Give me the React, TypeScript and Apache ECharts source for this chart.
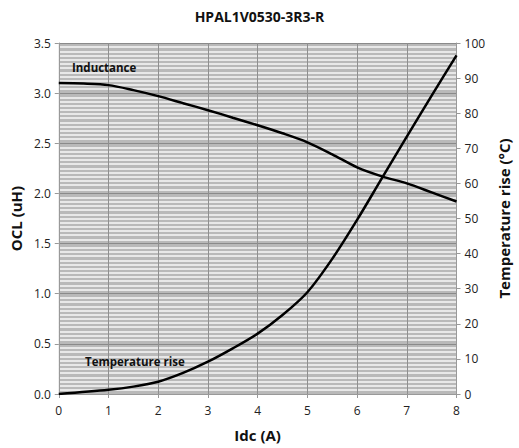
import React, { useEffect, useRef } from "react";
import * as echarts from "echarts";

const titleText = "HPAL1V0530-3R3-R";
const inductanceX = [0, 0.5, 1, 1.5, 2, 2.5, 3, 3.5, 4, 4.5, 5, 5.5, 6, 6.5, 7, 7.5, 8];
const inductanceY = [3.1, 3.095, 3.08, 3.03, 2.97, 2.9, 2.83, 2.755, 2.68, 2.6, 2.51, 2.39, 2.26, 2.17, 2.1, 2.01, 1.92];
const tempX = [0, 1, 1.5, 2, 2.5, 3, 3.5, 4, 4.5, 5, 5.5, 6, 6.5, 7, 7.5, 8];
const tempY = [0, 1.2, 2.1, 3.5, 6, 9.2, 13, 17.2, 22.5, 29, 38.5, 49.6, 61.5, 73.3, 85, 96.5];

const FONT = "'Open Sans', sans-serif";

export default function App() {
  const ref = useRef<HTMLDivElement>(null);
  useEffect(() => {
    const chart = echarts.init(ref.current!, undefined, { renderer: "svg" });
    chart.setOption({
      animation: false,
      backgroundColor: "#ffffff",
      textStyle: { fontFamily: FONT },
      title: {
        text: titleText,
        left: "center",
        top: 4,
        textStyle: { fontSize: 14, fontWeight: "bold", color: "#111", fontFamily: FONT },
      },
      grid: {
        left: 56,
        right: 59,
        top: 43,
        bottom: 54,
        show: true,
        backgroundColor: "#b9b9b9",
        borderWidth: 0,
      },
      xAxis: {
        type: "value",
        min: 0,
        max: 8,
        interval: 1,
        name: "Idc (A)",
        nameLocation: "middle",
        nameGap: 33,
        nameTextStyle: { fontSize: 15, fontWeight: "bold", color: "#111", fontFamily: FONT },
        axisLine: { show: true, lineStyle: { color: "#999" } },
        axisTick: { show: true, length: 4, lineStyle: { color: "#999" } },
        axisLabel: { fontSize: 12, color: "#222", margin: 10 },
        splitLine: { show: true, lineStyle: { color: "#8f8f8f", width: 1 } },
      },
      yAxis: [
        {
          type: "value",
          min: 0,
          max: 3.5,
          interval: 0.5,
          name: "OCL (uH)",
          nameLocation: "middle",
          nameRotate: 90,
          nameGap: 30,
          nameTextStyle: { fontSize: 15, fontWeight: "bold", color: "#111", fontFamily: FONT },
          axisLine: { show: true, lineStyle: { color: "#999" } },
          axisTick: { show: true, length: 4, lineStyle: { color: "#999" } },
          axisLabel: { fontSize: 12, color: "#222", margin: 8, formatter: (v: number) => v.toFixed(1) },
          splitLine: { show: true, lineStyle: { color: "#8a8a8a", width: 1 } },
          minorTick: { show: false, splitNumber: 12 },
          minorSplitLine: { show: true, lineStyle: { color: "#e8e8e8", width: 2 } },
        },
        {
          type: "value",
          min: 0,
          max: 100,
          interval: 10,
          position: "right",
          name: "Temperature rise (°C)",
          nameLocation: "middle",
          nameRotate: 90,
          nameGap: 37,
          nameTextStyle: { fontSize: 15, fontWeight: "bold", color: "#111", fontFamily: FONT },
          axisLine: { show: true, lineStyle: { color: "#999" } },
          axisTick: { show: true, length: 4, lineStyle: { color: "#999" } },
          axisLabel: { fontSize: 12, color: "#222", margin: 8 },
          splitLine: { show: false },
        },
      ],
      graphic: [
        {
          type: "text",
          left: 72,
          top: 61,
          z: 100,
          style: { text: "Inductance", fontSize: 11.5, fontWeight: "bold", fill: "#111", fontFamily: FONT },
        },
        {
          type: "text",
          left: 85,
          top: 355,
          z: 100,
          style: { text: "Temperature rise", fontSize: 11.5, fontWeight: "bold", fill: "#111", fontFamily: FONT },
        },
      ],
      series: [
        {
          name: "Inductance",
          type: "line",
          yAxisIndex: 0,
          smooth: 0.3,
          symbol: "none",
          z: 5,
          lineStyle: { color: "#000", width: 2.5 },
          data: inductanceX.map((x, i) => [x, inductanceY[i]]),
        },
        {
          name: "Temperature rise",
          type: "line",
          yAxisIndex: 1,
          smooth: 0.3,
          symbol: "none",
          z: 5,
          lineStyle: { color: "#000", width: 2.5 },
          data: tempX.map((x, i) => [x, tempY[i]]),
        },
      ],
    });
    return () => chart.dispose();
  }, []);
  return <div ref={ref} style={{ width: 519, height: 448, position: "absolute", left: 0, top: 0 }} />;
}
